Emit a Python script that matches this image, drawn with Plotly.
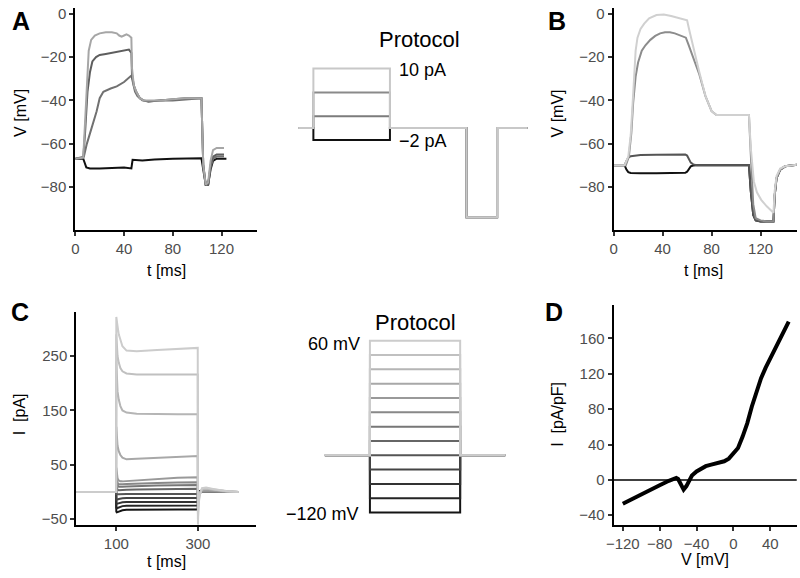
import plotly.graph_objects as go

W, H = 800, 578
FONT = "Liberation Sans, Arial, sans-serif"

# ---- panel A: current clamp responses, t [ms] / V [mV]
a_t_n2 = [0, 6.5, 9, 12, 20, 30, 40, 46, 47, 55, 65, 80, 95, 103.5, 105, 107, 109, 111, 113, 116, 124]
a_v_n2 = [-67, -67, -71, -71.5, -71.5, -71.2, -71, -71.5, -67.5, -67.8, -67.3, -67, -66.8, -66.8, -72, -79, -79, -72, -68, -67, -67]

a_t_2 = [0, 7, 9.5, 13.5, 17.5, 20, 23, 29, 34, 40, 45, 46, 47, 49, 51, 55, 60, 70, 80, 90, 100, 103.5, 105, 107, 109, 111, 113, 116, 122]
a_v_2 = [-67, -66, -60, -53, -45, -39, -36, -34.5, -33.5, -31.5, -29, -28.5, -31, -36, -38, -40, -40.5, -40, -40, -39.5, -39, -39, -70, -79, -79, -71, -67, -66, -66]

a_t_6 = [0, 6.5, 8, 10, 12, 14, 17, 20, 25, 30, 35, 40, 44, 46, 46.5, 48, 50, 53, 56, 60, 70, 80, 90, 100, 103.5, 105, 107, 109, 111, 113, 116, 122]
a_v_6 = [-67, -66.5, -55, -36, -27, -22, -20, -19, -18.5, -18, -17.5, -17, -16.5, -18, -28, -33, -36, -39, -40, -40.5, -40, -39.5, -39, -39, -39, -70, -79, -79, -70, -66, -65, -65]

a_t_10 = [0, 6.5, 8, 9.5, 11, 13, 16, 20, 25, 30, 34, 36, 38, 40, 42, 44, 46, 46.5, 48, 50, 53, 56, 60, 70, 80, 90, 100, 103.5, 105, 107, 109, 111, 113, 116, 122]
a_v_10 = [-67, -66.5, -50, -30, -17, -12, -10, -9, -8.5, -8.5, -9, -10, -10.5, -10, -9.5, -10, -11, -25, -33, -36, -39, -40, -40, -40, -39.5, -39, -39, -39, -70, -79, -78, -68, -63, -62, -62]

# protocol for A (pA)
prot_a_t = [0, 10, 10, 60, 60, 110, 110, 130, 130, 150]
prot_a_steps = [-2, 2, 6, 10]
prot_a_hyper = -15

# ---- panel B
b_t_sub_lo = [0, 9, 10.5, 12, 14, 17, 22, 35, 50, 58.5, 60, 61.5, 63, 65, 68, 80, 110.5, 112, 114, 116, 120, 130.5, 131.5, 133, 136, 140, 150]
b_v_sub_lo = [-70, -70, -72, -73.2, -73.6, -73.7, -73.7, -73.7, -73.7, -73.5, -73, -71.5, -70.5, -70.1, -70, -70, -70, -82, -93, -95.5, -96, -96, -84, -76, -72, -70.5, -69.8]

b_t_sub_hi = [0, 9, 10.5, 12, 14, 17, 22, 35, 50, 58.5, 60, 61.5, 63, 65, 68, 80, 110.5, 112, 114, 116, 120, 130.5, 131.5, 133, 136, 140, 150]
b_v_sub_hi = [-70, -70, -68, -66.5, -65.8, -65.5, -65.3, -65.2, -65, -65, -65.5, -67, -68.8, -69.6, -70, -70, -70, -82, -93, -95.5, -96, -96, -84, -76, -72, -70.5, -69.8]

b_t_sup_lo = [0, 10, 12.5, 14.5, 16, 18, 20, 23, 26, 30, 34, 38, 42, 46, 50, 55, 59, 61, 66, 70, 75, 80, 84, 95, 110.5, 112, 114, 116, 120, 125, 130.5, 131.5, 133, 136, 140, 150]
b_v_sup_lo = [-70, -70, -66, -55, -41, -29, -22.5, -17, -14.5, -12, -10.2, -9, -8.5, -8.5, -9, -10, -11, -14, -22, -28, -38, -45, -46.8, -46.8, -46.8, -65, -88, -94.5, -95.5, -96, -96, -84, -76, -72, -70.5, -69.8]

b_t_sup_hi = [0, 9, 12, 14, 16, 18, 19.5, 22, 25, 29, 35, 41, 47, 53, 60, 62, 66, 70, 75, 80, 84, 95, 110.5, 112, 114.5, 117, 120.5, 125, 130.5, 131.5, 133, 136, 140, 150]
b_v_sup_hi = [-70, -70, -66, -56, -37, -17, -11, -7, -4.5, -2, -0.5, -0.3, -1, -2, -3, -8, -18, -27, -38, -45, -46.8, -46.8, -46.8, -62, -77.5, -82.5, -86, -89, -92, -82, -75, -71.5, -70.5, -69.8]

# ---- panel C: voltage clamp currents, t [ms] / I [pA]
c_steps = [-120, -105, -90, -75, -60, -45, -30, -15, 0, 15, 30, 45, 60]
c_t = [0, 99.5, 100, 101, 103, 106, 110, 115, 125, 150, 200, 250, 299.5, 300, 301, 304, 310, 320, 340, 370, 400]
c_i = [
    [0, 0, -36, -37.5, -37, -36, -34.5, -33.5, -32.8, -32.5, -32.3, -32.3, -32.3, 3, 2, 1, 0.5, 0.3, 0.1, 0, 0],
    [0, 0, -29, -30, -29.5, -28.5, -27, -26, -25.4, -25.2, -25, -25, -25, 2, 1.5, 0.8, 0.4, 0.2, 0.1, 0, 0],
    [0, 0, -21, -22, -21.5, -20.5, -19.5, -18.8, -18.4, -18.3, -18.3, -18.3, -18.3, 1.5, 1, 0.6, 0.3, 0.1, 0, 0, 0],
    [0, 0, -14, -14.5, -14, -13, -12, -11.5, -11.2, -11, -11, -11, -11, 1, 0.8, 0.4, 0.2, 0.1, 0, 0, 0],
    [0, 0, -4, -4.5, -4.2, -4, -3.8, -3.7, -3.6, -3.6, -3.6, -3.6, -3.6, 0.5, 0.3, 0.2, 0.1, 0, 0, 0, 0],
    [0, 0, 12, 8, 4, 3, 3, 3.5, 4, 4.5, 5, 5.5, 6, -3, -2, -1, 0, 0.5, 0.3, 0.1, 0],
    [0, 0, 25, 18, 12, 9.5, 9, 9.5, 10, 11, 12, 12.5, 13, -6, -3, -1, 0.5, 1, 0.5, 0.2, 0],
    [0, 0, 35, 25, 17, 14, 13.5, 14, 14.5, 15.5, 16.5, 17.5, 18, -10, -5, -1, 1, 1.5, 0.8, 0.3, 0],
    [0, 0, 45, 35, 25, 21, 19.5, 19.5, 20, 22, 24.5, 26, 27, -15, -8, -2, 2, 2.5, 1.5, 0.5, 0],
    [0, 0, 120, 100, 85, 75, 68, 63, 60, 61, 63, 65, 66, -30, -15, -3, 4, 5, 3, 1, 0],
    [0, 0, 240, 210, 185, 170, 158, 150, 146, 144, 143, 143, 143, -40, -20, -4, 5, 6, 4, 1.5, 0],
    [0, 0, 290, 270, 250, 238, 228, 222, 218, 216, 216, 216, 216, -50, -25, -5, 6, 7, 4.5, 1.5, 0],
    [0, 0, 322, 318, 305, 290, 278, 268, 260, 259, 261, 263, 265, -60, -30, -6, 7, 8, 5, 2, 0],
]

# protocol for C (mV)
prot_c_t = [0, 100, 100, 300, 300, 400]
prot_c_hold = -60

# ---- panel D: I-V relation, V [mV] / I [pA/pF]
d_v = [-120, -110, -100, -90, -80, -70, -65, -62, -60, -57, -54, -51, -48, -45, -40, -35, -30, -25, -20, -15,
       -10, -5, 0, 5, 10, 15, 20, 25, 30, 35, 40, 45, 50, 55, 60]
d_i = [-27, -21.5, -16, -11, -6, -1, 1.5, 2.2, 1, -6, -11, -7, 0, 5, 9.5, 13, 15.5, 17, 18, 19,
       21, 24, 30, 36, 49, 64, 83, 100, 115, 127, 137, 148, 158, 169, 179]

# colours
a_colors = ["#111111", "#717171", "#5e5e5e", "#a6a6a6"]
prot_a_colors = ["#111111", "#7c7c7c", "#8a8a8a", "#c8c8c8"]
b_colors = ["#111111", "#555555", "#8c8c8c", "#d0d0d0"]
c_colors = ["#141414", "#242424", "#333333", "#444444", "#555555", "#666666", "#777777",
            "#888888", "#999999", "#a8a8a8", "#b5b5b5", "#c0c0c0", "#cccccc"]

fig = go.Figure()

# A
for t, v, col in zip([a_t_n2, a_t_2, a_t_6, a_t_10], [a_v_n2, a_v_2, a_v_6, a_v_10], a_colors):
    fig.add_trace(go.Scatter(x=t, y=v, mode="lines", line=dict(color=col, width=2), xaxis="x", yaxis="y"))

# protocol A
for amp, col in zip(prot_a_steps, prot_a_colors):
    y = [0, 0, amp, amp, 0, 0, prot_a_hyper, prot_a_hyper, 0, 0]
    fig.add_trace(go.Scatter(x=prot_a_t, y=y, mode="lines", line=dict(color=col, width=2), xaxis="x2", yaxis="y2"))

# B
for t, v, col in zip([b_t_sub_lo, b_t_sub_hi, b_t_sup_lo, b_t_sup_hi],
                     [b_v_sub_lo, b_v_sub_hi, b_v_sup_lo, b_v_sup_hi], b_colors):
    fig.add_trace(go.Scatter(x=t, y=v, mode="lines", line=dict(color=col, width=2), xaxis="x3", yaxis="y3"))

# C
for i_vals, col in zip(c_i, c_colors):
    fig.add_trace(go.Scatter(x=c_t, y=i_vals, mode="lines", line=dict(color=col, width=2), xaxis="x4", yaxis="y4"))

# protocol C
for v, col in zip(c_steps, c_colors):
    y = [prot_c_hold, prot_c_hold, v, v, prot_c_hold, prot_c_hold]
    fig.add_trace(go.Scatter(x=prot_c_t, y=y, mode="lines", line=dict(color=col, width=2), xaxis="x5", yaxis="y5"))

# D
fig.add_trace(go.Scatter(x=d_v, y=d_i, mode="lines", line=dict(color="black", width=4), xaxis="x6", yaxis="y6"))
fig.add_shape(type="line", xref="x6 domain", x0=0, x1=1, yref="y6", y0=0, y1=0,
              line=dict(color="black", width=1.5))


def ax(**kw):
    d = dict(showline=True, linecolor="black", linewidth=2, ticks="outside", ticklen=4, tickwidth=1.5,
             tickcolor="#333333", tickfont=dict(size=15, color="#4d4d4d", family=FONT),
             showgrid=False, zeroline=False, fixedrange=True)
    d.update(kw)
    return d


def hidden(**kw):
    d = dict(visible=False, showgrid=False, zeroline=False, fixedrange=True)
    d.update(kw)
    return d


def xd(a, b):
    return [a / W, b / W]


def yd(top, bottom):
    return [1 - bottom / H, 1 - top / H]


fig.update_layout(
    width=W, height=H, margin=dict(l=0, r=0, t=0, b=0),
    paper_bgcolor="white", plot_bgcolor="white", showlegend=False,
    font=dict(family=FONT, color="black"),
    xaxis=ax(domain=xd(68, 252), range=[0, 149.5], tickvals=[0, 40, 80, 120], anchor="y"),
    yaxis=ax(domain=yd(5, 229.3), range=[-100.1, 2.75], tickvals=[-80, -60, -40, -20, 0], anchor="x"),
    xaxis2=hidden(domain=xd(293, 525), range=[0, 150], anchor="y2"),
    yaxis2=hidden(domain=yd(5, 229.3), range=[-17.2, 20.2], anchor="x2"),
    xaxis3=ax(domain=xd(611.7, 796.7), range=[0, 149.5], tickvals=[0, 40, 80, 120], anchor="y3"),
    yaxis3=ax(domain=yd(5, 229.3), range=[-100.1, 2.75], tickvals=[-80, -60, -40, -20, 0], anchor="x3"),
    xaxis4=ax(domain=xd(69, 250), range=[2, 441], tickvals=[100, 300], anchor="y4"),
    yaxis4=ax(domain=yd(311.7, 526.7), range=[-61, 331], tickvals=[-50, 50, 150, 250], anchor="x4"),
    xaxis5=hidden(domain=xd(320, 502.3), range=[0, 400], anchor="y5"),
    yaxis5=hidden(domain=yd(311.7, 526.7), range=[-133.2, 90.1], anchor="x5"),
    xaxis6=ax(domain=xd(611.7, 796.7), range=[-130, 68.7], tickvals=[-120, -80, -40, 0, 40], anchor="y6"),
    yaxis6=ax(domain=yd(305, 526.7), range=[-51.2, 197.4], tickvals=[-40, 0, 40, 80, 120, 160], anchor="x6"),
)


def note(text, px, py, size=16, xanchor="center", angle=0, bold=False):
    if bold:
        text = "<b>" + text + "</b>"
    fig.add_annotation(text=text, x=px / W, y=1 - py / H, xref="paper", yref="paper",
                       xanchor=xanchor, yanchor="middle", showarrow=False, textangle=angle,
                       font=dict(size=size, color="black", family=FONT))


# panel letters
note("A", 13, 18.5, size=25, bold=True)
note("B", 555, 18.5, size=25, bold=True)
note("C", 12, 311.5, size=25, bold=True)
note("D", 552, 311.5, size=25, bold=True)

# axis titles
note("V [mV]", 12, 111, angle=-90)
note("t [ms]", 160, 270)
note("V [mV]", 555, 111, angle=-90)
note("t [ms]", 703, 270)
note("I  [pA]", 12, 415, angle=-90)
note("t [ms]", 160, 563)
note("I  [pA/pF]", 555, 415, angle=-90)
note("V [mV]", 704, 561)

# protocol labels
note("Protocol", 416, 37, size=22)
note("10 pA", 393, 68, size=18, xanchor="left")
note("\u22122 pA", 393, 139.5, size=18, xanchor="left")
note("Protocol", 411.5, 322, size=22)
note("60 mV", 358, 343.5, size=18, xanchor="right")
note("\u2212120 mV", 357, 515.5, size=18, xanchor="right")

fig.write_html("out.html", config={"displayModeBar": False},
               post_script="document.body.style.margin='0px';document.body.style.overflow='hidden';")
